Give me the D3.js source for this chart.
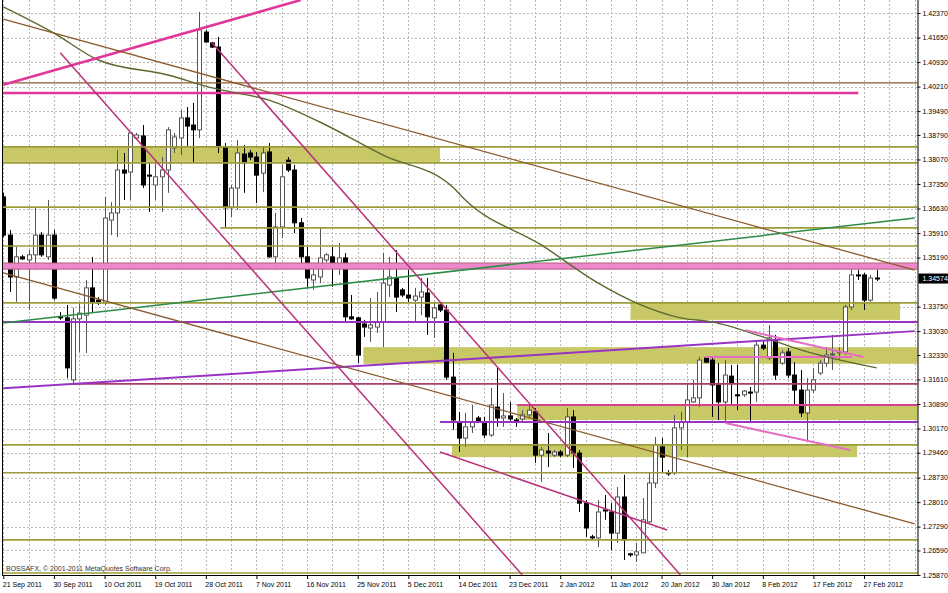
<!DOCTYPE html>
<html><head><meta charset="utf-8">
<script src="https://cdn.jsdelivr.net/npm/d3@7"></script>
<style>body{margin:0;background:#fff;}svg{display:block;}</style>
</head><body><svg id="c" width="948" height="593"></svg>
<script>
// ---- candle data (daily EURUSD bars) ----
const opens = [1.3697,1.3585,1.3462,1.3521,1.3512,1.3527,1.3585,1.3521,1.3585,1.3345,
1.3342,1.3160,1.3339,1.3350,1.3430,1.3394,1.3386,1.3629,1.3650,1.3776,
1.3770,1.3870,1.3876,1.3761,1.3732,1.3756,1.3776,1.3841,1.3870,1.3929,
1.3908,1.3894,1.4181,1.4149,1.4137,1.3844,1.3665,1.3723,1.3823,1.3826,
1.3814,1.3767,1.3829,1.3521,1.3609,1.3805,1.3776,1.3621,1.3521,1.3453,
1.3462,1.3512,1.3521,1.3488,1.3518,1.3345,1.3342,1.3324,1.3312,1.3315,
1.3330,1.3438,1.3459,1.3424,1.3409,1.3394,1.3403,1.3415,1.3342,1.3380,
1.3365,1.3168,1.3036,1.2989,1.3022,1.3048,1.3033,1.2998,1.3080,1.3048,
1.3054,1.3042,1.3045,1.3057,1.3066,1.2939,1.2951,1.2939,1.2948,1.2939,
1.3051,1.2945,1.2798,1.2699,1.2696,1.2778,1.2772,1.2710,1.2816,1.2649,
1.2646,1.2652,1.2743,1.2857,1.2963,1.2887,1.2887,1.3019,1.3036,1.3095,
1.3107,1.3224,1.3218,1.3145,1.3095,1.3171,1.3116,1.3116,1.3124,1.3124,
1.3262,1.3224,1.3277,1.3209,1.3242,1.3174,1.3130,1.3063,1.3130,1.3180,
1.3209,1.3233,1.3239,1.3242,1.3374,1.3468,1.3468,1.3394,1.3459];
const highs = [1.3709,1.3600,1.3550,1.3527,1.3541,1.3665,1.3594,1.3688,1.3600,1.3359,
1.3380,1.3371,1.3386,1.3453,1.3521,1.3403,1.3697,1.3682,1.3835,1.3826,
1.3888,1.3885,1.3908,1.3797,1.3805,1.3814,1.3902,1.3885,1.3952,1.3961,
1.3973,1.4240,1.4187,1.4152,1.4167,1.3855,1.3732,1.3864,1.3850,1.3835,
1.3829,1.3844,1.3855,1.3650,1.3791,1.3814,1.3791,1.3635,1.3550,1.3497,
1.3609,1.3532,1.3550,1.3562,1.3532,1.3409,1.3345,1.3336,1.3400,1.3418,
1.3532,1.3521,1.3541,1.3430,1.3483,1.3430,1.3459,1.3459,1.3389,1.3386,
1.3380,1.3239,1.3066,1.3063,1.3086,1.3054,1.3051,1.3136,1.3195,1.3121,
1.3095,1.3048,1.3071,1.3086,1.3077,1.2963,1.3004,1.2954,1.2954,1.3077,
1.3071,1.2954,1.2807,1.2705,1.2807,1.2822,1.2798,1.2845,1.2881,1.2652,
1.2681,1.2813,1.2889,1.2992,1.2989,1.2895,1.3057,1.3066,1.3151,1.3160,
1.3227,1.3227,1.3224,1.3209,1.3218,1.3204,1.3204,1.3130,1.3139,1.3271,
1.3277,1.3321,1.3292,1.3247,1.3253,1.3212,1.3189,1.3165,1.3195,1.3218,
1.3256,1.3292,1.3256,1.3380,1.3488,1.3483,1.3474,1.3468,1.3483];
const lows = [1.3579,1.3418,1.3389,1.3512,1.3365,1.3483,1.3521,1.3512,1.3394,1.3336,
1.3165,1.3145,1.3242,1.3239,1.3359,1.3380,1.3380,1.3585,1.3579,1.3688,
1.3688,1.3864,1.3723,1.3653,1.3688,1.3653,1.3709,1.3826,1.3820,1.3844,
1.3797,1.3870,1.4149,1.4134,1.3826,1.3609,1.3638,1.3659,1.3709,1.3805,
1.3679,1.3711,1.3518,1.3483,1.3576,1.3770,1.3591,1.3491,1.3433,1.3424,
1.3444,1.3505,1.3433,1.3468,1.3327,1.3336,1.3209,1.3286,1.3271,1.3298,
1.3256,1.3403,1.3359,1.3403,1.3386,1.3330,1.3350,1.3292,1.3283,1.3359,
1.3160,1.3013,1.2948,1.2963,1.3004,1.3033,1.2989,1.2992,1.3022,1.3022,
1.3036,1.3022,1.3036,1.3048,1.2916,1.2860,1.2904,1.2933,1.2933,1.2933,
1.2901,1.2772,1.2699,1.2690,1.2669,1.2749,1.2660,1.2681,1.2631,1.2640,
1.2625,1.2652,1.2740,1.2842,1.2889,1.2878,1.2881,1.2954,1.2933,1.3092,
1.3080,1.3209,1.3051,1.3042,1.3033,1.3086,1.3071,1.3110,1.3033,1.3095,
1.3247,1.3218,1.3160,1.3204,1.3165,1.3086,1.3051,1.2977,1.3121,1.3174,
1.3198,1.3189,1.3218,1.3233,1.3365,1.3453,1.3365,1.3389,1.3450];
const closes = [1.3585,1.3462,1.3521,1.3515,1.3527,1.3585,1.3527,1.3585,1.3400,1.3342,
1.3195,1.3339,1.3356,1.3430,1.3389,1.3386,1.3635,1.3650,1.3776,1.3767,
1.3885,1.3879,1.3732,1.3758,1.3756,1.3776,1.3894,1.3873,1.3929,1.3905,
1.3894,1.4187,1.4152,1.4137,1.3844,1.3665,1.3723,1.3826,1.3797,1.3814,
1.3761,1.3826,1.3521,1.3609,1.3756,1.3776,1.3621,1.3521,1.3459,1.3468,
1.3518,1.3527,1.3488,1.3518,1.3345,1.3339,1.3233,1.3315,1.3321,1.3330,
1.3444,1.3462,1.3403,1.3409,1.3400,1.3406,1.3418,1.3345,1.3371,1.3365,
1.3168,1.3042,1.2989,1.3022,1.3036,1.3039,1.2998,1.3086,1.3048,1.3054,
1.3045,1.3036,1.3057,1.3071,1.2939,1.2954,1.2945,1.2948,1.2939,1.3051,
1.2945,1.2798,1.2725,1.2696,1.2772,1.2775,1.2710,1.2816,1.2690,1.2646,
1.2655,1.2749,1.2857,1.2969,1.2933,1.2884,1.3019,1.3036,1.3101,1.3107,
1.3218,1.3212,1.3145,1.3095,1.3174,1.3151,1.3113,1.3127,1.3121,1.3262,
1.3253,1.3283,1.3174,1.3239,1.3174,1.3130,1.3063,1.3130,1.3160,1.3209,
1.3233,1.3236,1.3242,1.3374,1.3468,1.3465,1.3394,1.3459,1.34574];

const dateLabels = ["21 Sep 2011","30 Sep 2011","10 Oct 2011","19 Oct 2011","28 Oct 2011","7 Nov 2011",
"16 Nov 2011","25 Nov 2011","5 Dec 2011","14 Dec 2011","23 Dec 2011","2 Jan 2012","11 Jan 2012",
"20 Jan 2012","30 Jan 2012","8 Feb 2012","17 Feb 2012","27 Feb 2012"];
const dateLabelBars = [0,8,16,24,32,40,48,56,64,72,80,88,96,104,112,120,128,136];
// grid levels (the 1.34470 label is hidden under the current-price box)
const gridPrices = [1.42370,1.41650,1.40930,1.40210,1.39490,1.38790,1.38070,1.37350,1.36630,1.35910,1.35190,
1.34470,1.33750,1.33030,1.32330,1.31610,1.30890,1.30170,1.29460,1.28730,1.28010,1.27290,1.26590,1.25870];
const priceTicks = [1.42370,1.41650,1.40930,1.40210,1.39490,1.38790,1.38070,1.37350,1.36630,1.35910,1.35190,
1.33750,1.33030,1.32330,1.31610,1.30890,1.30170,1.29460,1.28730,1.28010,1.27290,1.26590,1.25870];
const currentPrice = 1.34574;
const watermark = "BOSSAFX, \u00a9 2001-2011 MetaQuotes Software Corp.";

// moving average curve (bar index, price)
const maBars = [0,8,15,26,33,42,50,60,71,73,85,94,100,107,112,120,126,138];
const maValues = [1.4255,1.4178,1.4099,1.4055,1.4017,1.3981,1.3917,1.3820,1.3726,1.3688,1.3556,1.3444,1.3386,1.3342,1.3330,1.3286,1.3248,1.3195];

// horizontal levels: price, first bar, last bar, kind
const levels = [
 {p:1.4032,a:-1,b:150,k:"brown"},
 {p:1.4002,a:-1,b:135.1,k:"magentaThick"},
 {p:1.3844,a:-1,b:150,k:"olive"},
 {p:1.3797,a:-1,b:150,k:"olive"},
 {p:1.3667,a:-1,b:150,k:"olive"},
 {p:1.3606,a:34.3,b:150,k:"olive"},
 {p:1.3553,a:-1,b:150,k:"olive"},
 {p:1.3386,a:-1,b:150,k:"olive"},
 {p:1.3330,a:-1,b:150,k:"purple"},
 {p:1.3148,a:10.6,b:150,k:"maroon"},
 {p:1.3227,a:110.9,b:134.1,k:"pink"},
 {p:1.3086,a:81.2,b:150,k:"magenta"},
 {p:1.3036,a:69,b:150,k:"purple"},
 {p:1.2969,a:-1,b:150,k:"olive"},
 {p:1.2887,a:-1,b:150,k:"olive"},
 {p:1.2690,a:-1,b:150,k:"olive"},
 {p:1.2593,a:-1,b:150,k:"olive"}
];
// zones (rectangles): top price, bottom price, first bar, last bar
const zones = [
 {t:1.3844,u:1.3800,a:-1,b:69,k:"khaki"},
 {t:1.3386,u:1.3336,a:99.1,b:141.7,k:"khaki"},
 {t:1.3256,u:1.3207,a:56.9,b:150,k:"khaki"},
 {t:1.3086,u:1.3042,a:81.2,b:150,k:"khaki"},
 {t:1.2969,u:1.2933,a:70.9,b:134.9,k:"khaki"}
];
const bands = [
 {t:1.3503,u:1.3485,a:-1,b:150,k:"pinkBand"}
];
// trend lines: [bar, price] -> [bar, price]
const trends = [
 {a:[0,1.4026],b:[47,1.4275],k:"magentaThick"},
 {a:[0,1.4219],b:[144,1.3482],k:"brown"},
 {a:[0,1.3327],b:[144,1.3635],k:"green"},
 {a:[0,1.3135],b:[144,1.3303],k:"purple"},
 {a:[0,1.3474],b:[144,1.2737],k:"brown"},
 {a:[9,1.4120],b:[82,1.2587],k:"steep"},
 {a:[33,1.4149],b:[107,1.2587],k:"steep"},
 {a:[69,1.2948],b:[104.9,1.2719],k:"steep"},
 {a:[114.1,1.3033],b:[133.8,1.2954],k:"pink"},
 {a:[117.2,1.3306],b:[135.9,1.3227],k:"pink"}
];

// ---- styles ----
const styles = {
 olive:{stroke:"#9c9c3a",w:1.6},
 brown:{stroke:"#8b5a2b",w:1.3},
 magentaThick:{stroke:"#e2379a",w:2.6},
 magenta:{stroke:"#d4428e",w:2},
 maroon:{stroke:"#a63c6c",w:1.6},
 purple:{stroke:"#9933c4",w:2},
 pink:{stroke:"#e56cc4",w:2},
 green:{stroke:"#2e8b45",w:1.5},
 steep:{stroke:"#b8327a",w:1.5},
 ma:{stroke:"#5b6b30",w:1.4}
};
const zoneStyles = {
 khaki:{fill:"#c8c866",stroke:"none"},
 pinkBand:{fill:"#ee88cc",stroke:"#b0627c"}
};

const svg = d3.select("#c");
const L = 3, R = 917.5, T = 0, B = 575;
const x = d3.scaleLinear().domain([0,138]).range([3.3,876.7]);
const y = d3.scaleLinear().domain([1.2587,1.4237]).range([575,13]);

svg.append("defs").append("clipPath").attr("id","plot")
  .append("rect").attr("x",L).attr("y",T).attr("width",R-L).attr("height",B-T);

const plot = svg.append("g").attr("clip-path","url(#plot)");

// grid
const gridBars = d3.range(0,148,4);
plot.selectAll("line.vg").data(gridBars).join("line")
  .attr("x1",d=>Math.round(x(d))+0.5).attr("x2",d=>Math.round(x(d))+0.5)
  .attr("y1",T).attr("y2",B)
  .attr("stroke","#b8b8b8").attr("stroke-width",1).attr("stroke-dasharray","2,2");
plot.selectAll("line.hg").data(gridPrices).join("line")
  .attr("x1",L).attr("x2",R)
  .attr("y1",d=>Math.round(y(d))+0.5).attr("y2",d=>Math.round(y(d))+0.5)
  .attr("stroke","#b8b8b8").attr("stroke-width",1).attr("stroke-dasharray","2,2");

// zones (behind candles)
plot.selectAll("rect.zone").data(zones).join("rect")
  .attr("x",d=>x(d.a)).attr("width",d=>x(d.b)-x(d.a))
  .attr("y",d=>y(d.t)).attr("height",d=>y(d.u)-y(d.t))
  .attr("fill",d=>zoneStyles[d.k].fill)
  .attr("stroke",d=>zoneStyles[d.k].stroke).attr("stroke-width",1);

// candles
const bars = d3.range(opens.length);
const cg = plot.append("g");
cg.selectAll("line.wick").data(bars).join("line")
  .attr("x1",i=>Math.round(x(i))+0.5).attr("x2",i=>Math.round(x(i))+0.5)
  .attr("y1",i=>y(highs[i])).attr("y2",i=>y(lows[i]))
  .attr("stroke",i=>closes[i]>=opens[i]?"#555":"#000").attr("stroke-width",1);
cg.selectAll("rect.body").data(bars).join("rect")
  .attr("x",i=>Math.round(x(i))-1.5).attr("width",4)
  .attr("y",i=>y(Math.max(opens[i],closes[i])))
  .attr("height",i=>Math.max(1,Math.abs(y(opens[i])-y(closes[i]))))
  .attr("fill",i=>closes[i]>=opens[i]?"#fff":"#000")
  .attr("stroke",i=>closes[i]>=opens[i]?"#555":"#000").attr("stroke-width",1);

// bands (over candles)
plot.selectAll("rect.band").data(bands).join("rect")
  .attr("x",d=>x(d.a)).attr("width",d=>x(d.b)-x(d.a))
  .attr("y",d=>y(d.t)).attr("height",d=>y(d.u)-y(d.t))
  .attr("fill",d=>zoneStyles[d.k].fill)
  .attr("stroke",d=>zoneStyles[d.k].stroke).attr("stroke-width",1);

// levels
plot.selectAll("line.lvl").data(levels).join("line")
  .attr("x1",d=>x(d.a)).attr("x2",d=>x(d.b))
  .attr("y1",d=>y(d.p)).attr("y2",d=>y(d.p))
  .attr("stroke",d=>styles[d.k].stroke).attr("stroke-width",d=>styles[d.k].w);

// moving average
plot.append("path")
  .datum(maBars.map((b,i)=>[b,maValues[i]]))
  .attr("d",d3.line().x(d=>x(d[0])).y(d=>y(d[1])).curve(d3.curveMonotoneX))
  .attr("fill","none").attr("stroke",styles.ma.stroke).attr("stroke-width",styles.ma.w);

// trend lines
plot.selectAll("line.tr").data(trends).join("line")
  .attr("x1",d=>x(d.a[0])).attr("y1",d=>y(d.a[1]))
  .attr("x2",d=>x(d.b[0])).attr("y2",d=>y(d.b[1]))
  .attr("stroke",d=>styles[d.k].stroke).attr("stroke-width",d=>styles[d.k].w);

// watermark
svg.append("text").attr("x",6).attr("y",571).text(watermark)
  .attr("font-family","Liberation Sans, Arial, sans-serif").attr("font-size",7).attr("fill","#333");

// frame
svg.append("line").attr("x1",2.5).attr("x2",2.5).attr("y1",0).attr("y2",B+1).attr("stroke","#000");

// right axis
const ra = svg.append("g").attr("transform",`translate(${R},0)`)
  .call(d3.axisRight(y).tickValues(priceTicks).tickFormat(d=>d.toFixed(5)).tickSize(3).tickPadding(2));
ra.select(".domain").attr("d",`M0.5,0V${B+1}`).attr("stroke","#000");
ra.selectAll("text").attr("font-family","Liberation Sans, Arial, sans-serif").attr("font-size",7).attr("fill","#000");

// bottom axis
const ba = svg.append("g").attr("transform",`translate(0,${B})`)
  .call(d3.axisBottom(x).tickValues(dateLabelBars).tickFormat((d,i)=>dateLabels[i]).tickSize(4).tickPadding(3));
ba.select(".domain").attr("d",`M2.5,0.5H${R+0.5}`).attr("stroke","#000");
ba.selectAll("text").attr("text-anchor","start").attr("dx",-1)
  .attr("font-family","Liberation Sans, Arial, sans-serif").attr("font-size",7).attr("fill","#000");

// current price box
const cy = y(currentPrice);
svg.append("rect").attr("x",R+1).attr("y",cy-5).attr("width",948-R-1).attr("height",10).attr("fill","#000");
svg.append("text").attr("x",R+5).attr("y",cy+2.5).text(currentPrice.toFixed(5))
  .attr("font-family","Liberation Sans, Arial, sans-serif").attr("font-size",7).attr("fill","#fff");
</script></body></html>
